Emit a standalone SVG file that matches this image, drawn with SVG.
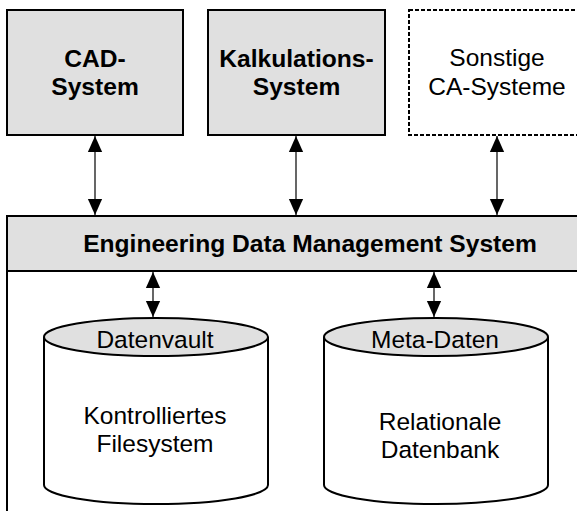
<svg xmlns="http://www.w3.org/2000/svg" width="577" height="511" viewBox="0 0 577 511">
  <style>
    .box { fill: #e0e0e0; stroke: #000; stroke-width: 2; }
    .dashed { fill: #fff; stroke: #000; stroke-width: 2; stroke-dasharray: 4 2; }
    .edge { stroke: #000; stroke-width: 1.2; fill: none; }
    .frame { stroke: #000; stroke-width: 2; fill: none; }
    .bold { font-family: "Liberation Sans", Arial, sans-serif; font-weight: bold; font-size: 24.6px; text-anchor: middle; fill: #000; }
    .reg { font-family: "Liberation Sans", Arial, sans-serif; font-size: 24.5px; text-anchor: middle; fill: #000; }
    .cyl { fill: #fff; stroke: #000; stroke-width: 2; }
    .lid { fill: #e0e0e0; stroke: #000; stroke-width: 2; }
  </style>
  <defs>
    <marker id="head" markerUnits="userSpaceOnUse" markerWidth="16" markerHeight="18" refX="18" refY="8" orient="auto-start-reverse" viewBox="0 0 18 16">
      <path d="M0,0 L18,8 L0,16 Z" fill="#000"/>
    </marker>
  </defs>

  <rect width="577" height="511" fill="#fff"/>

  <!-- Top systems -->
  <g id="cad">
    <rect class="box" x="7" y="10" width="176" height="125"/>
    <text class="bold" x="95" y="67">CAD-</text>
    <text class="bold" x="95" y="95">System</text>
  </g>
  <g id="kalkulation">
    <rect class="box" x="208" y="10" width="177" height="125"/>
    <text class="bold" x="296.5" y="67">Kalkulations-</text>
    <text class="bold" x="296.5" y="95">System</text>
  </g>
  <g id="sonstige">
    <rect class="dashed" x="409" y="10" width="176" height="125"/>
    <text class="reg" x="497" y="66">Sonstige</text>
    <text class="reg" x="497" y="95">CA-Systeme</text>
  </g>

  <!-- EDMS bar with open frame below -->
  <g id="edms">
    <rect class="box" x="7" y="216" width="600" height="55"/>
    <line class="frame" x1="7" y1="271" x2="7" y2="515"/>
    <text class="bold" x="310" y="252">Engineering Data Management System</text>
  </g>

  <!-- Storage cylinders -->
  <g id="datenvault">
    <path class="cyl" d="M44,337 L44,485 A112,19 0 0 0 268,485 L268,337"/>
    <ellipse class="lid" cx="156" cy="337" rx="112" ry="19"/>
    <text class="reg" x="155" y="348">Datenvault</text>
    <text class="reg" x="155" y="424">Kontrolliertes</text>
    <text class="reg" x="155" y="452">Filesystem</text>
  </g>
  <g id="metadaten">
    <path class="cyl" d="M324,337 L324,485 A112,19 0 0 0 548,485 L548,337"/>
    <ellipse class="lid" cx="436" cy="337" rx="112" ry="19"/>
    <text class="reg" x="435" y="348">Meta-Daten</text>
    <text class="reg" x="440" y="430">Relationale</text>
    <text class="reg" x="440" y="458">Datenbank</text>
  </g>

  <!-- Connectors -->
  <g id="connectors">
    <line class="edge" x1="95" y1="136" x2="95" y2="215" marker-start="url(#head)" marker-end="url(#head)"/>
    <line class="edge" x1="296" y1="136" x2="296" y2="215" marker-start="url(#head)" marker-end="url(#head)"/>
    <line class="edge" x1="497" y1="136" x2="497" y2="215" marker-start="url(#head)" marker-end="url(#head)"/>
    <line class="edge" x1="153" y1="272" x2="153" y2="317" marker-start="url(#head)" marker-end="url(#head)"/>
    <line class="edge" x1="434" y1="272" x2="434" y2="317" marker-start="url(#head)" marker-end="url(#head)"/>
  </g>
</svg>
